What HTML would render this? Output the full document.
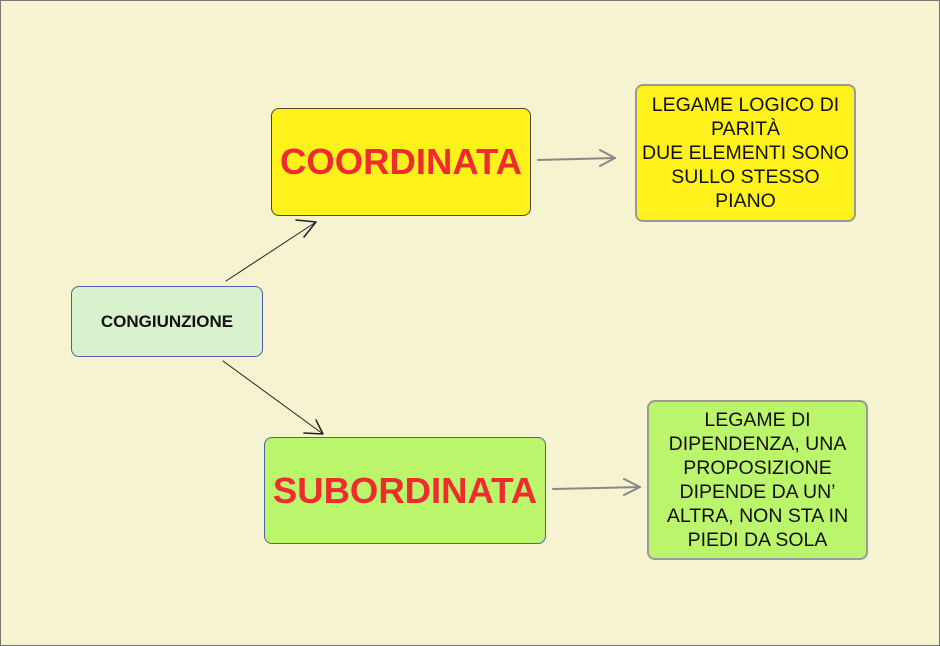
<!DOCTYPE html>
<html><head><meta charset="utf-8"><style>
html,body{margin:0;padding:0}
body{width:940px;height:646px;position:relative;background:#f6f3d0;font-family:"Liberation Sans",Arial,sans-serif;overflow:hidden}
.frame{position:absolute;left:0;top:0;width:938px;height:644px;border:1px solid #777}
.b{position:absolute;box-sizing:border-box;border-radius:8px;display:flex;align-items:center;justify-content:center;text-align:center}
.big{color:#ee2b2f;font-weight:bold;font-size:36.5px}
.small{font-size:19.5px;line-height:24px;color:#111}
</style></head><body>
<div class="frame"></div>
<svg width="940" height="646" style="position:absolute;left:0;top:0">
<g fill="none" stroke-linecap="round" stroke-linejoin="round">
<path d="M226 281 L316 222" stroke="#222" stroke-width="1"/>
<path d="M296 220 L316 222 L304 237" stroke="#222" stroke-width="1.5"/>
<path d="M223 361 L323 434" stroke="#222" stroke-width="1"/>
<path d="M316 420 L323 434 L304 433" stroke="#222" stroke-width="1.5"/>
<path d="M538 160 L615 158" stroke="#888" stroke-width="2"/>
<path d="M600 150 L615 158 L600 166" stroke="#888" stroke-width="2"/>
<path d="M553 489 L640 487" stroke="#888" stroke-width="2"/>
<path d="M624 479 L640 487 L624 495" stroke="#888" stroke-width="2"/>
</g></svg>
<div class="b big" style="left:271px;top:108px;width:260px;height:108px;background:#fff21c;border:1.5px solid #4a4a2a">COORDINATA</div>
<div class="b" style="left:71px;top:286px;width:192px;height:71px;background:#d9f2cd;border:1.5px solid #4f5fa8;font-weight:bold;font-size:17px;color:#111">CONGIUNZIONE</div>
<div class="b big" style="left:264px;top:437px;width:282px;height:107px;background:#bbf56b;border:1.5px solid #4f5fa8">SUBORDINATA</div>
<div class="b small" style="left:635px;top:84px;width:221px;height:138px;background:#fff21c;border:2px solid #999">LEGAME LOGICO DI<br>PARITÀ<br>DUE ELEMENTI SONO<br>SULLO STESSO<br>PIANO</div>
<div class="b small" style="left:647px;top:400px;width:221px;height:160px;background:#bbf56b;border:2px solid #999">LEGAME DI<br>DIPENDENZA, UNA<br>PROPOSIZIONE<br>DIPENDE DA UN’<br>ALTRA, NON STA IN<br>PIEDI DA SOLA</div>
</body></html>
